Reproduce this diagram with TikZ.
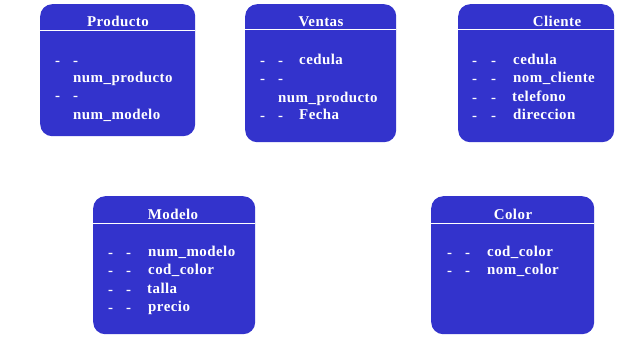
\documentclass[tikz,border=0pt]{standalone}
\usepackage{fontspec}
\newfontfamily\boxfont{Liberation Serif}[LetterSpace=3]
\definecolor{boxblue}{HTML}{3333CC}
\begin{document}
\begin{tikzpicture}[x=1bp,y=-1bp,
  entity/.style={draw=none,fill=boxblue,rounded corners=12bp,inner sep=0pt,anchor=north west},
  hline/.style={draw=white,line width=1bp},
  txt/.style={text=white,font=\boxfont\bfseries\fontsize{15}{17}\selectfont,anchor=mid west,inner sep=0pt,yshift=-3.5bp},
  ttl/.style={text=white,font=\boxfont\bfseries\fontsize{15}{17}\selectfont,anchor=mid,inner sep=0pt,yshift=-3.5bp}]
\useasboundingbox (0,0) rectangle (620,337);
% boxes
\node[entity,minimum width=155bp,minimum height=132bp] (producto) at (40,4) {};
\node[entity,minimum width=151bp,minimum height=138bp] (ventas) at (245,4) {};
\node[entity,minimum width=156bp,minimum height=138bp] (cliente) at (458,4) {};
\node[entity,minimum width=162bp,minimum height=138bp] (modelo) at (93,196) {};
\node[entity,minimum width=163bp,minimum height=138bp] (color) at (431,196) {};
% header lines
\draw[hline] (producto.west |- 0,30) -- (producto.east |- 0,30);
\draw[hline] (ventas.west |- 0,29.5) -- (ventas.east |- 0,29.5);
\draw[hline] (cliente.west |- 0,29.5) -- (cliente.east |- 0,29.5);
\draw[hline] (modelo.west |- 0,223) -- (modelo.east |- 0,223);
\draw[hline] (color.west |- 0,223) -- (color.east |- 0,223);
% titles
\node[ttl] (tproducto) at (118,21) {Producto};
\node[ttl] (tventas) at (321,21) {Ventas};
\node[ttl] (tcliente) at (557,21) {Cliente};
\node[ttl] (tmodelo) at (173,214) {Modelo};
\node[ttl] (tcolor) at (513,214) {Color};
% Producto
\node[txt] (p1a) at (55,60) {-};
\node[txt] (p1b) at (73,60) {-};
\node[txt] (p1) at (73,77) {num\_producto};
\node[txt] (p2a) at (55,95) {-};
\node[txt] (p2b) at (73,95) {-};
\node[txt] (p2) at (73,114) {num\_modelo};
% Ventas
\node[txt] (v1a) at (260,60) {-};
\node[txt] (v1b) at (278,60) {-};
\node[txt] (v1) at (299,59) {cedula};
\node[txt] (v2a) at (260,78) {-};
\node[txt] (v2b) at (278,78) {-};
\node[txt] (v2) at (278,97) {num\_producto};
\node[txt] (v3a) at (260,115) {-};
\node[txt] (v3b) at (278,115) {-};
\node[txt] (v3) at (299,114) {Fecha};
% Cliente
\node[txt] (c1a) at (472,60) {-};
\node[txt] (c1b) at (491,60) {-};
\node[txt] (c1) at (513,59) {cedula};
\node[txt] (c2a) at (472,78) {-};
\node[txt] (c2b) at (491,78) {-};
\node[txt] (c2) at (513,77) {nom\_cliente};
\node[txt] (c3a) at (472,97) {-};
\node[txt] (c3b) at (491,97) {-};
\node[txt] (c3) at (512,96) {telefono};
\node[txt] (c4a) at (472,115) {-};
\node[txt] (c4b) at (491,115) {-};
\node[txt] (c4) at (513,114) {direccion};
% Modelo
\node[txt] (m1a) at (108,252) {-};
\node[txt] (m1b) at (126,252) {-};
\node[txt] (m1) at (148,251) {num\_modelo};
\node[txt] (m2a) at (108,270) {-};
\node[txt] (m2b) at (126,270) {-};
\node[txt] (m2) at (148,269) {cod\_color};
\node[txt] (m3a) at (108,289) {-};
\node[txt] (m3b) at (126,289) {-};
\node[txt] (m3) at (147,288) {talla};
\node[txt] (m4a) at (108,307) {-};
\node[txt] (m4b) at (126,307) {-};
\node[txt] (m4) at (148,306) {precio};
% Color
\node[txt] (k1a) at (447,252) {-};
\node[txt] (k1b) at (465,252) {-};
\node[txt] (k1) at (487,251) {cod\_color};
\node[txt] (k2a) at (447,270) {-};
\node[txt] (k2b) at (465,270) {-};
\node[txt] (k2) at (487,269) {nom\_color};
\end{tikzpicture}
\end{document}
